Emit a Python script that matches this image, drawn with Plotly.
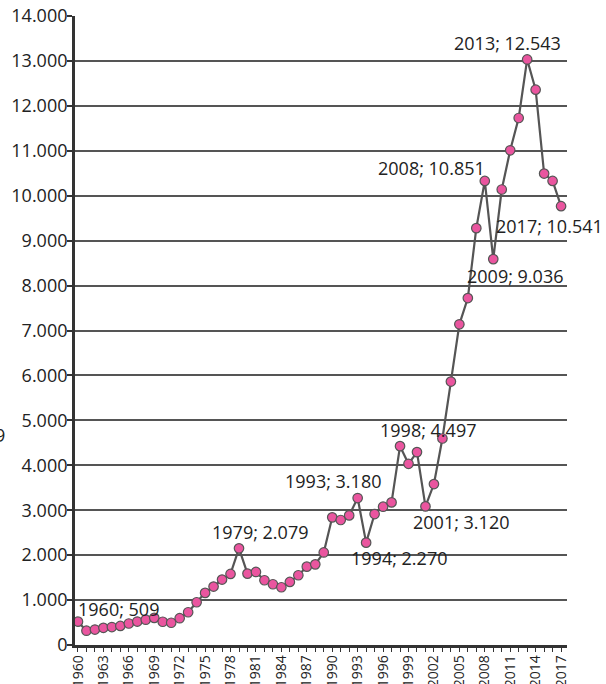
import plotly.graph_objects as go

years = list(range(1960, 2018))
values = [520, 318, 344, 382, 400, 425, 478, 522, 563, 604,
          518, 495, 596, 729, 951, 1160, 1300, 1456, 1582, 2151,
          1589, 1626, 1441, 1352, 1285, 1404, 1552, 1744, 1795, 2060,
          2841, 2782, 2885, 3271, 2278, 2915, 3078, 3174, 4426, 4033,
          4293, 3085, 3582, 4596, 5863, 7138, 7722, 9278, 10329, 8589,
          10138, 11011, 11730, 13033, 12360, 10493, 10329, 9767]

label_texts = ["1960; 509", "1979; 2.079", "1993; 3.180", "1994; 2.270",
               "1998; 4.497", "2001; 3.120", "2008; 10.851", "2009; 9.036",
               "2013; 12.543", "2017; 10.541"]
# label centre positions in plot-area fractions
label_pos = [(0.0884, 0.0579), (0.376, 0.1802), (0.5254, 0.2611), (0.6585, 0.1389),
             (0.7175, 0.3421), (0.7846, 0.196), (0.7256, 0.7579), (0.8933, 0.587),
             (0.879, 0.9568), (0.9654, 0.6659)]

tick_vals = years
tick_text = [str(y) if (y - 1960) % 3 == 0 else "" for y in years]
y_ticks = list(range(0, 14001, 1000))

FONT = "Open Sans"
fig = go.Figure()
fig.add_trace(go.Scatter(
    x=years, y=values, mode="lines+markers",
    line=dict(color="#555555", width=2.2),
    marker=dict(color="#ea559f", size=9.5, line=dict(color="#555555", width=1.2)),
    hoverinfo="skip", showlegend=False,
))

annotations = []
for t, (px, py) in zip(label_texts, label_pos):
    annotations.append(dict(text=t, x=px, y=py, xref="paper", yref="paper",
                            showarrow=False, xanchor="center", yanchor="middle",
                            font=dict(family=FONT, size=18, color="#222222")))
annotations.append(dict(text="9", x=-0.138, y=(645.5 - 435) / 630, xref="paper", yref="paper",
                        showarrow=False, xanchor="right", yanchor="middle",
                        font=dict(family=FONT, size=18, color="#222222")))

fig.update_layout(
    width=606, height=684,
    margin=dict(l=75, r=39, t=15.5, b=38.5, autoexpand=False),
    paper_bgcolor="white", plot_bgcolor="white",
    separators=",.",
    annotations=annotations,
    xaxis=dict(
        range=[1959.65, 2017.7], automargin=False,
        tickmode="array", tickvals=tick_vals, ticktext=tick_text,
        tickangle=-90, ticks="outside", ticklen=4, tickwidth=1.3, tickcolor="#333333",
        ticklabelstandoff=-2,
        showgrid=False, zeroline=False,
        showline=True, linecolor="#333333", linewidth=2.5,
        tickfont=dict(family=FONT, size=14, color="#222222"),
    ),
    yaxis=dict(
        range=[0, 14000], automargin=False,
        tickmode="array", tickvals=y_ticks,
        tickformat=",d",
        ticks="outside", ticklen=5, tickwidth=1.5, tickcolor="#333333",
        ticklabelstandoff=-4,
        showgrid=True, gridcolor="#555555", gridwidth=1.5,
        zeroline=False,
        showline=True, linecolor="#333333", linewidth=2.8,
        tickfont=dict(family=FONT, size=18, color="#222222"),
    ),
)

fig.write_html("out.html", config={"displayModeBar": False},
               post_script="document.body.style.margin='0';document.body.style.overflow='hidden';")
